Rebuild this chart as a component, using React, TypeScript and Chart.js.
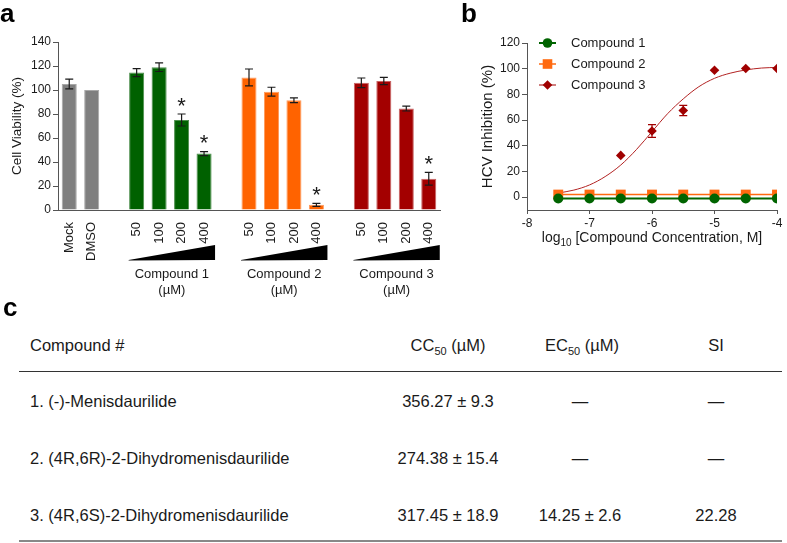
import React, { useEffect, useRef } from "react";
import { Chart, registerables } from "chart.js";
Chart.register(...registerables);

// ---------- Panel a data ----------
const barCategories = ["Mock", "DMSO", "", "50", "100", "200", "400", "", "50", "100", "200", "400", "", "50", "100", "200", "400"];
const barValues = [105, 100, null, 114.5, 119, 75, 47, null, 110.5, 98.6, 91.5, 4.3, null, 106, 107.5, 84.5, 26];
const barErrors = [4, 0, 0, 3.3, 3.6, 5, 1.7, 0, 7, 3.7, 2, 1.2, 0, 4, 3, 2, 5.3];
const barSignificant = [false, false, false, false, false, true, true, false, false, false, false, true, false, false, false, false, true];
const barGroup = [0, 0, -1, 1, 1, 1, 1, -1, 2, 2, 2, 2, -1, 3, 3, 3, 3];
const groupNames = ["", "Compound 1", "Compound 2", "Compound 3"];
const groupUnit = "(µM)";
const viabilityTicks = [0, 20, 40, 60, 80, 100, 120, 140];

// ---------- Panel b data ----------
const logConc = [-7.5, -7, -6.5, -6, -5.5, -5, -4.5, -4];
const comp1Inhibition = [-1, -1, -1, -1, -1, -1, -1, -1];
const comp2Inhibition = [2, 2, 2, 2, 2, 2, 2, 2];
const comp3Conc = [-6.5, -6, -5.5, -5, -4.5, -4];
const comp3Inhibition = [32.5, 51.5, 67.5, 98.8, 100.2, 100.2];
const comp3Errors = [0, 5, 4, 0, 0, 0];
const fitConc = [-7.5, -7.25, -7, -6.75, -6.5, -6.25, -6, -5.75, -5.5, -5.25, -5, -4.75, -4.5, -4.25, -4];
const fitInhibition = [3.2, 5.5, 9.5, 16, 25, 37, 51, 65, 76.5, 86, 92.5, 96.5, 99, 100.5, 101];
const inhibitionTicks = [0, 20, 40, 60, 80, 100, 120];
const concTicks = [-8, -7, -6, -5, -4];
const legendNames = ["Compound 1", "Compound 2", "Compound 3"];

// ---------- Panel c data ----------
const tableCompounds = ["1. (-)-Menisdaurilide", "2. (4R,6R)-2-Dihydromenisdaurilide", "3. (4R,6S)-2-Dihydromenisdaurilide"];
const tableCC50 = ["356.27 ± 9.3", "274.38 ± 15.4", "317.45 ± 18.9"];
const tableEC50 = ["—", "—", "14.25 ± 2.6"];
const tableSI = ["—", "—", "22.28"];

// ---------- styles ----------
const FONT = "Arial, 'Liberation Sans', sans-serif";
const groupFill = ["#7f7f7f", "#006100", "#ff6300", "#a30000"];
const groupBorder = ["#a8a8a8", "#4d8f4d", "#ff9a5c", "#c86464"];
const AXIS = "#555";
const TEXT = "#1a1a1a";
const green = "#006400";
const orange = "#ff6a10";
const darkRed = "#a00000";

function drawMarker(ctx: CanvasRenderingContext2D, kind: string, x: number, y: number, r: number, color: string) {
  ctx.save();
  ctx.fillStyle = color;
  ctx.beginPath();
  if (kind === "circle") ctx.arc(x, y, r, 0, Math.PI * 2);
  else if (kind === "rect") ctx.rect(x - r, y - r, 2 * r, 2 * r);
  else {
    ctx.moveTo(x, y - r);
    ctx.lineTo(x + r, y);
    ctx.lineTo(x, y + r);
    ctx.lineTo(x - r, y);
    ctx.closePath();
  }
  ctx.fill();
  ctx.restore();
}

export default function App() {
  const refA = useRef<HTMLCanvasElement>(null);
  const refB = useRef<HTMLCanvasElement>(null);

  useEffect(() => {
    const barPlugin = {
      id: "barExtras",
      afterDatasetsDraw(chart: any) {
        const { ctx, scales } = chart;
        const xs = scales.x;
        const ys = scales.y;
        ctx.save();
        ctx.strokeStyle = "#1a1a1a";
        ctx.lineWidth = 1.2;
        barValues.forEach((v, i) => {
          if (v == null) return;
          const cx = xs.getPixelForValue(i);
          const e = barErrors[i];
          let top = ys.getPixelForValue(v);
          if (e > 0) {
            top = ys.getPixelForValue(v + e);
            const bot = ys.getPixelForValue(v - e);
            ctx.beginPath();
            ctx.moveTo(cx, top);
            ctx.lineTo(cx, bot);
            ctx.moveTo(cx - 4, top);
            ctx.lineTo(cx + 4, top);
            ctx.moveTo(cx - 4, bot);
            ctx.lineTo(cx + 4, bot);
            ctx.stroke();
          }
          if (barSignificant[i]) {
            ctx.fillStyle = TEXT;
            ctx.font = `22px ${FONT}`;
            ctx.textAlign = "center";
            ctx.textBaseline = "alphabetic";
            ctx.fillText("*", cx, top - 14 + 12.5);
          }
        });
        // wedges and group labels
        for (let g = 1; g < groupNames.length; g++) {
          const idx = barGroup.map((gg, i) => (gg === g ? i : -1)).filter((i) => i >= 0);
          const x0 = xs.getPixelForValue(idx[0]) - 8;
          const x1 = xs.getPixelForValue(idx[idx.length - 1]) + 11;
          const yb = 260;
          const yt = 245;
          ctx.fillStyle = "#000";
          ctx.beginPath();
          ctx.moveTo(x0, yb);
          ctx.lineTo(x1, yt);
          ctx.lineTo(x1, yb);
          ctx.lineTo(x0, yb + 0.6);
          ctx.closePath();
          ctx.fill();
          ctx.fillStyle = TEXT;
          ctx.font = `13px ${FONT}`;
          ctx.textAlign = "center";
          ctx.textBaseline = "middle";
          const mx = (x0 + x1) / 2;
          ctx.fillText(groupNames[g], mx, 274);
          ctx.fillText(groupUnit, mx, 290);
        }
        ctx.restore();
      },
    };

    const chartA = new Chart(refA.current!, {
      type: "bar",
      data: {
        labels: barCategories,
        datasets: [
          {
            data: barValues as any,
            backgroundColor: barGroup.map((g) => groupFill[Math.max(g, 0)]),
            borderColor: barGroup.map((g) => groupBorder[Math.max(g, 0)]),
            borderWidth: 1,
            barPercentage: 0.67,
            categoryPercentage: 1,
          },
        ],
      },
      options: {
        animation: false,
        responsive: false,
        events: [],
        layout: { padding: { top: 42, right: 30, left: 0, bottom: 0 } },
        plugins: { legend: { display: false }, tooltip: { enabled: false } },
        scales: {
          x: {
            type: "category",
            offset: true,
            grid: { display: false },
            border: { display: true, color: AXIS, width: 1 },
            ticks: {
              autoSkip: false,
              minRotation: 90,
              maxRotation: 90,
              padding: 4,
              color: TEXT,
              font: { family: FONT, size: 13 },
            },
            afterFit: (s: any) => {
              s.height = 90;
            },
          },
          y: {
            min: 0,
            max: 140,
            grid: { drawOnChartArea: false, drawTicks: true, tickLength: 5, color: AXIS },
            border: { display: true, color: AXIS, width: 1 },
            ticks: { padding: 2, color: TEXT, font: { family: FONT, size: 12 } },
            title: {
              display: true,
              text: "Cell Viability (%)",
              color: TEXT,
              font: { family: FONT, size: 13.5 },
              padding: { top: 9, bottom: 0 },
            },
            afterBuildTicks: (s: any) => {
              s.ticks = viabilityTicks.map((value) => ({ value }));
            },
            afterFit: (s: any) => {
              s.width = 58;
            },
          },
        },
      } as any,
      plugins: [barPlugin],
    });

    const curvePlugin = {
      id: "curveExtras",
      afterDatasetsDraw(chart: any) {
        const { ctx, scales, chartArea } = chart;
        const xs = scales.x;
        const ys = scales.y;
        ctx.save();
        // error bars for compound 3
        ctx.strokeStyle = darkRed;
        ctx.lineWidth = 1.2;
        comp3Conc.forEach((c, i) => {
          const e = comp3Errors[i];
          if (!e) return;
          const cx = xs.getPixelForValue(c);
          const t = ys.getPixelForValue(comp3Inhibition[i] + e);
          const b = ys.getPixelForValue(comp3Inhibition[i] - e);
          ctx.beginPath();
          ctx.moveTo(cx, t);
          ctx.lineTo(cx, b);
          ctx.moveTo(cx - 4, t);
          ctx.lineTo(cx + 4, t);
          ctx.moveTo(cx - 4, b);
          ctx.lineTo(cx + 4, b);
          ctx.stroke();
        });
        // legend
        const rows = [43, 64, 85];
        const kinds = ["circle", "rect", "diamond"];
        const colors = [green, orange, darkRed];
        const sizes = [4.8, 4.8, 4.8];
        const widths = [2, 1.5, 1];
        legendNames.forEach((name, i) => {
          const y = rows[i];
          ctx.strokeStyle = colors[i];
          ctx.lineWidth = widths[i];
          ctx.beginPath();
          ctx.moveTo(69, y);
          ctx.lineTo(86, y);
          ctx.stroke();
          drawMarker(ctx, kinds[i], 77.5, y, sizes[i], colors[i]);
          ctx.fillStyle = TEXT;
          ctx.font = `13px ${FONT}`;
          ctx.textAlign = "left";
          ctx.textBaseline = "middle";
          ctx.fillText(name, 101, y);
        });
        // x title with subscript
        const cx = (chartArea.left + chartArea.right) / 2;
        const ty = 237;
        const p1 = "log";
        const p2 = "10";
        const p3 = " [Compound Concentration, M]";
        ctx.font = `14px ${FONT}`;
        const w1 = ctx.measureText(p1).width;
        const w3 = ctx.measureText(p3).width;
        ctx.font = `10px ${FONT}`;
        const w2 = ctx.measureText(p2).width;
        let x = cx - (w1 + w2 + w3) / 2;
        ctx.fillStyle = TEXT;
        ctx.textAlign = "left";
        ctx.textBaseline = "alphabetic";
        ctx.font = `14px ${FONT}`;
        ctx.fillText(p1, x, ty + 5);
        x += w1;
        ctx.font = `10px ${FONT}`;
        ctx.fillText(p2, x, ty + 9);
        x += w2;
        ctx.font = `14px ${FONT}`;
        ctx.fillText(p3, x, ty + 5);
        ctx.restore();
      },
    };

    const chartB = new Chart(refB.current!, {
      type: "scatter",
      data: {
        datasets: [
          {
            data: logConc.map((x, i) => ({ x, y: comp1Inhibition[i] })),
            showLine: true,
            borderColor: green,
            backgroundColor: green,
            borderWidth: 2,
            pointStyle: "circle",
            pointRadius: 5,
            pointBorderWidth: 0,
            order: 1,
          },
          {
            data: logConc.map((x, i) => ({ x, y: comp2Inhibition[i] })),
            showLine: true,
            borderColor: orange,
            backgroundColor: orange,
            borderWidth: 1.5,
            pointStyle: "rect",
            pointRadius: 7,
            pointBorderWidth: 0,
            order: 2,
          },
          {
            data: comp3Conc.map((x, i) => ({ x, y: comp3Inhibition[i] })),
            showLine: false,
            borderColor: darkRed,
            backgroundColor: darkRed,
            pointStyle: "rectRot",
            pointRadius: 4.8,
            pointBorderWidth: 0,
            order: 0,
          },
          {
            data: fitConc.map((x, i) => ({ x, y: fitInhibition[i] })),
            showLine: true,
            borderColor: "#b22222",
            borderWidth: 1,
            pointRadius: 0,
            tension: 0.4,
            cubicInterpolationMode: "monotone",
            order: 3,
          },
        ],
      },
      options: {
        animation: false,
        responsive: false,
        events: [],
        layout: { padding: { top: 43, right: 10, left: 0, bottom: 0 } },
        plugins: { legend: { display: false }, tooltip: { enabled: false } },
        scales: {
          x: {
            type: "linear",
            min: -8,
            max: -4,
            grid: { drawOnChartArea: false, drawTicks: true, tickLength: 4, color: AXIS },
            border: { display: true, color: AXIS, width: 1 },
            ticks: { padding: 2, color: TEXT, font: { family: FONT, size: 12 } },
            afterBuildTicks: (s: any) => {
              s.ticks = concTicks.map((value) => ({ value }));
            },
            afterFit: (s: any) => {
              s.height = 90;
            },
          },
          y: {
            min: -10,
            max: 120,
            grid: { drawOnChartArea: false, drawTicks: true, tickLength: 5, color: AXIS },
            border: { display: true, color: AXIS, width: 1 },
            ticks: { padding: 2, color: TEXT, font: { family: FONT, size: 12 } },
            title: {
              display: true,
              text: "HCV Inhibition (%)",
              color: TEXT,
              font: { family: FONT, size: 15 },
              padding: { top: 9, bottom: 0 },
            },
            afterBuildTicks: (s: any) => {
              s.ticks = inhibitionTicks.map((value) => ({ value }));
            },
            afterFit: (s: any) => {
              s.width = 57;
            },
          },
        },
      } as any,
      plugins: [curvePlugin],
    });

    return () => {
      chartA.destroy();
      chartB.destroy();
    };
  }, []);

  const letter: React.CSSProperties = {
    position: "absolute",
    fontFamily: FONT,
    fontWeight: "bold",
    fontSize: 26,
    lineHeight: "26px",
    color: "#000",
  };
  const cell = (left: number, width: number, cy: number, align: "left" | "center"): React.CSSProperties => ({
    position: "absolute",
    left,
    width,
    top: cy - 10,
    height: 20,
    lineHeight: "20px",
    fontFamily: FONT,
    fontSize: 16.5,
    color: TEXT,
    textAlign: align,
    whiteSpace: "nowrap",
  });
  const rowY = [401, 458, 515];
  const sub: React.CSSProperties = { fontSize: 11, verticalAlign: "-4px", lineHeight: 0 };

  return (
    <div style={{ position: "absolute", left: 0, top: 0, width: 787, height: 543, background: "#fff", overflow: "hidden" }}>
      <canvas ref={refA} width={470} height={300} style={{ position: "absolute", left: 0, top: 0, width: 470, height: 300 }} />
      <canvas ref={refB} width={317} height={300} style={{ position: "absolute", left: 470, top: 0, width: 317, height: 300 }} />
      <div style={{ ...letter, left: 0, top: 0 }}>a</div>
      <div style={{ ...letter, left: 461, top: 0 }}>b</div>
      <div style={{ ...letter, left: 3, top: 294 }}>c</div>

      <div style={cell(30, 200, 345, "left")}>Compound #</div>
      <div style={cell(378, 140, 345, "center")}>
        CC<span style={sub}>50</span> (µM)
      </div>
      <div style={cell(512, 140, 345, "center")}>
        EC<span style={sub}>50</span> (µM)
      </div>
      <div style={cell(656, 120, 345, "center")}>SI</div>
      <div style={{ position: "absolute", left: 19, width: 763, top: 371, height: 1, background: "#333" }} />
      {tableCompounds.map((name, i) => (
        <React.Fragment key={i}>
          <div style={cell(30, 330, rowY[i], "left")}>{name}</div>
          <div style={cell(378, 140, rowY[i], "center")}>{tableCC50[i]}</div>
          <div style={cell(510, 140, rowY[i], "center")}>{tableEC50[i]}</div>
          <div style={cell(656, 120, rowY[i], "center")}>{tableSI[i]}</div>
        </React.Fragment>
      ))}
      <div style={{ position: "absolute", left: 19, width: 763, top: 539.5, height: 2, background: "#888" }} />
    </div>
  );
}
